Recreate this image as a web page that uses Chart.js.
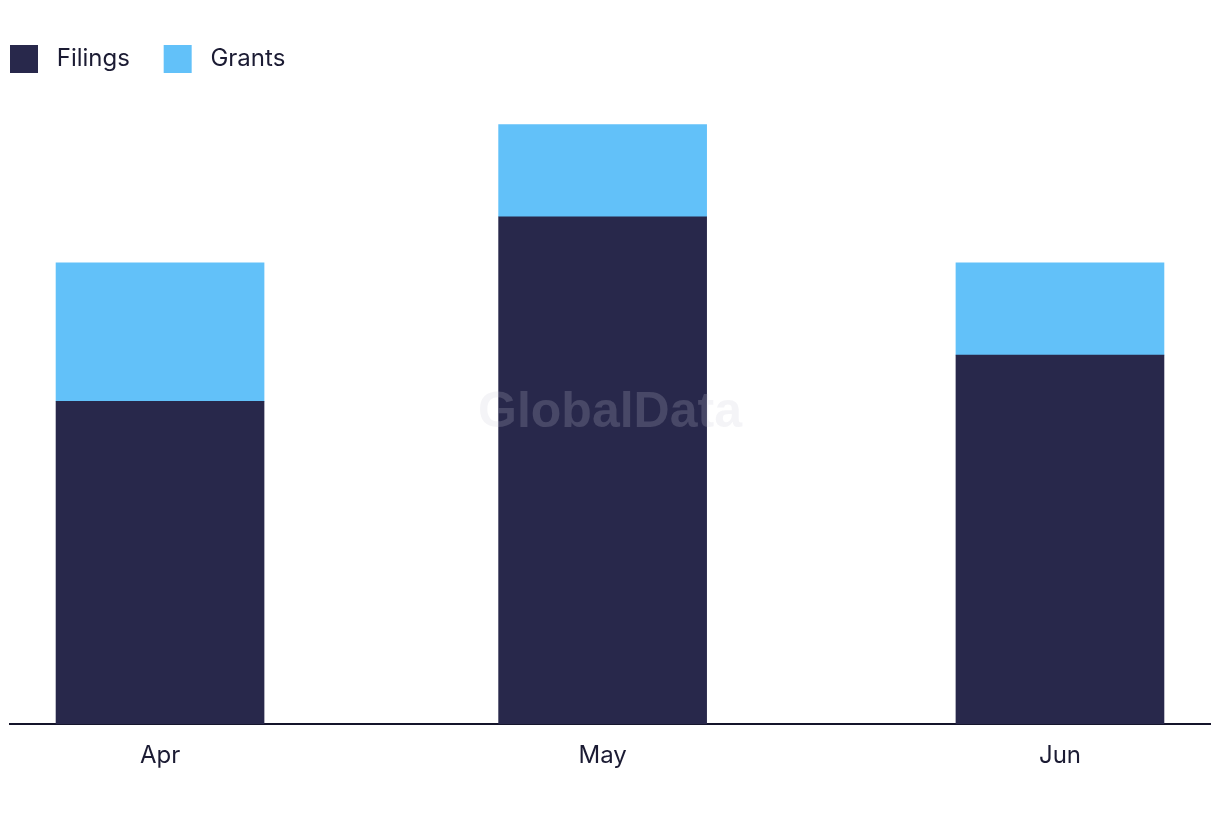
<!DOCTYPE html>
<html>
<head>
<meta charset="utf-8">
<script src="https://cdn.jsdelivr.net/npm/chart.js@4.4.1/dist/chart.umd.min.js"></script>
<style>
    html, body { margin: 0; padding: 0; background: #fff; }
    #wrap { width: 1220px; height: 822px; }
</style>
</head>
<body>
<div id="wrap"><canvas id="patentChart"></canvas></div>
<script>
// month positions in days from 1 Apr (bars sit on a time-like axis)
const monthLabels = ['Apr', 'May', 'Jun'];
const monthDays = [0, 30, 61];
const filings = [7, 11, 8];
const grants = [3, 2, 2];

const watermark = {
    id: 'watermark',
    afterDatasetsDraw(chart) {
        const { ctx, chartArea } = chart;
        ctx.save();
        ctx.font = 'bold 50px "Liberation Sans", Arial, sans-serif';
        ctx.fillStyle = 'rgba(200, 200, 215, 0.2)';
        ctx.textAlign = 'center';
        ctx.textBaseline = 'middle';
        ctx.fillText('GlobalData', (chartArea.left + chartArea.right) / 2, 413);
        ctx.restore();
    }
};

function toPoints(values) {
    return values.map((v, i) => ({ x: monthDays[i], y: v }));
}

document.addEventListener('DOMContentLoaded', () => {
    Chart.defaults.font.family = 'Inter, "Noto Sans", sans-serif';
    Chart.defaults.color = '#1b1b33';

    new Chart(document.getElementById('patentChart'), {
        type: 'bar',
        data: {
            datasets: [
                { label: 'Filings', data: toPoints(filings), backgroundColor: '#28284b', barThickness: 208 },
                { label: 'Grants', data: toPoints(grants), backgroundColor: '#62c1f9', barThickness: 208 }
            ]
        },
        options: {
            responsive: true,
            maintainAspectRatio: false,
            animation: false,
            layout: { padding: { left: 10, right: 10, top: 45, bottom: 43 } },
            plugins: {
                legend: {
                    align: 'start',
                    labels: {
                        boxWidth: 28,
                        boxHeight: 28,
                        padding: 0,
                        font: { size: 24 },
                        color: '#1b1b33',
                        generateLabels: chart => {
                            const items = Chart.defaults.plugins.legend.labels.generateLabels(chart);
                            items.forEach(item => { item.text = ' ' + item.text + '     '; });
                            return items;
                        }
                    }
                },
                tooltip: { enabled: false }
            },
            scales: {
                x: {
                    type: 'linear',
                    stacked: true,
                    min: -10.17,
                    max: 71.17,
                    offset: false,
                    grid: { display: false },
                    border: { display: true, color: '#14142a', width: 2 },
                    afterBuildTicks: axis => {
                        axis.ticks = monthDays.map(d => ({ value: d }));
                    },
                    ticks: {
                        padding: 9,
                        font: { size: 24 },
                        color: '#1b1b33',
                        callback: (value) => monthLabels[monthDays.indexOf(value)]
                    }
                },
                y: {
                    stacked: true,
                    display: false,
                    min: 0,
                    max: 13.9
                }
            }
        },
        plugins: [watermark]
    });
});
</script>
</body>
</html>
